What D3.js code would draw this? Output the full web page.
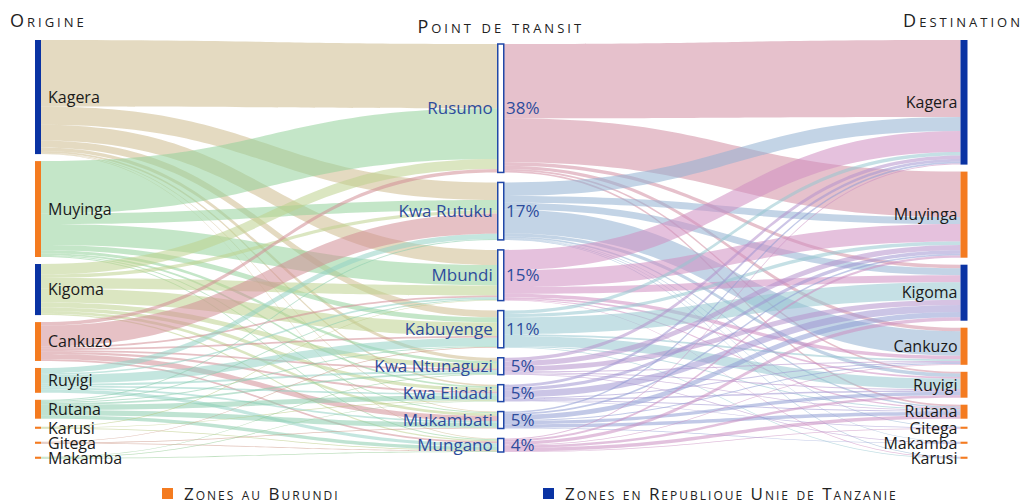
<!DOCTYPE html>
<html>
<head>
<meta charset="utf-8">
<script src="https://cdn.jsdelivr.net/npm/d3@7"></script>
<style>
  body { margin: 0; background: #fff; }
  svg { display: block; }
</style>
</head>
<body>
<div id="chart"></div>
<script>
// nodes
const origins = ["Kagera", "Muyinga", "Kigoma", "Cankuzo", "Ruyigi", "Rutana", "Karusi", "Gitega", "Makamba"];
const originCountry = ["TZ", "BI", "TZ", "BI", "BI", "BI", "BI", "BI", "BI"];
const transits = ["Rusumo", "Kwa Rutuku", "Mbundi", "Kabuyenge", "Kwa Ntunaguzi", "Kwa Elidadi", "Mukambati", "Mungano"];
const transitShare = [38, 17, 15, 11, 5, 5, 5, 4];
const destinations = ["Kagera", "Muyinga", "Kigoma", "Cankuzo", "Ruyigi", "Rutana", "Gitega", "Makamba", "Karusi"];
const destCountry = ["TZ", "BI", "TZ", "BI", "BI", "BI", "BI", "BI", "BI"];

// % of all flows, rows = origins, columns = transit points
const originToTransit = [
  [19, 5.2, 4.5, 2, 1, 0.5, 0.2, 0.2],
  [15, 3, 6, 1.5, 0.8, 0.5, 0.3, 0.3],
  [3, 1, 3, 4, 1.4, 1, 0.8, 0.4],
  [1, 6, 0.5, 0.5, 0.5, 0.6, 1.5, 0.5],
  [0, 1.5, 0.5, 2.5, 0.6, 0.5, 0.5, 1],
  [0, 0.3, 0.3, 0.3, 0.5, 1.5, 1.5, 1],
  [0, 0, 0.2, 0, 0, 0.2, 0, 0.2],
  [0, 0, 0, 0.2, 0, 0, 0.2, 0.2],
  [0, 0, 0, 0, 0.2, 0.2, 0, 0.2]
];

// rows = transit points, columns = destinations
const transitToDest = [
  [22, 13, 1, 1, 0.5, 0.5, 0, 0, 0],
  [4, 2, 2, 7, 1, 0.4, 0.2, 0.2, 0.2],
  [6, 5, 2, 1, 0.5, 0.3, 0, 0, 0.2],
  [1, 1, 5, 0.5, 3, 0.3, 0, 0, 0.2],
  [1, 1.5, 1.5, 0.3, 0.3, 0.2, 0, 0.2, 0],
  [0.8, 1, 2, 0.3, 0.4, 0.3, 0.2, 0, 0],
  [0.5, 0.5, 1.5, 0.3, 1, 1, 0, 0.2, 0],
  [0.3, 0.6, 1, 0.2, 0.7, 1, 0.2, 0, 0]
];

const originColors = ["#cebc8e", "#94d29b", "#bed28e", "#d28e96", "#94d2c5", "#8bccad", "#b5c77a", "#c8907e", "#8fc98f"];
const transitColors = ["#d28ea2", "#92b1d2", "#d08ec1", "#96c7d0", "#b492cc", "#a096d2", "#8f9dd4", "#cb8ec1"];
const countryColors = { BI: "#f47b20", TZ: "#0a33a3" };
const legendItems = [
  { label: "Zones au Burundi", country: "BI" },
  { label: "Zones en Republique Unie de Tanzanie", country: "TZ" }
];

(function () {
  const width = 1023, height = 500;
  const nodeW = 6;
  const pad = 7, padMid = 10, minSlot = 8;

  const svg = d3.select("#chart").append("svg")
    .attr("width", width)
    .attr("height", height)
    .style("font-family", "'Open Sans', sans-serif");

  const x = d3.scalePoint().domain(["origin", "transit", "dest"]).range([38, 963.5]);

  const originTotals = originToTransit.map(r => d3.sum(r));
  const destTotals = destinations.map((d, j) => d3.sum(transitToDest, r => r[j]));

  // side columns and middle column use their own vertical scale
  const kSide = d3.scaleLinear().domain([0, 100]).range([0, 350]);
  const kMid = d3.scaleLinear().domain([0, 100]).range([0, 338]);

  function column(values, top, k, gap) {
    let y = top;
    return values.map(v => {
      const h = k(v);
      const n = { y0: y, y1: y + h, out: 0, in: 0 };
      if (h < minSlot) { // tiny zones get a small slot with a dash
        n.y0 = y + 1; n.y1 = y + 1 + h;
        y += minSlot + gap;
      } else {
        y += h + gap;
      }
      return n;
    });
  }

  const oNodes = column(originTotals, 40, kSide, pad);
  const tNodes = column(transitShare, 44, kMid, padMid);
  const dNodes = column(destTotals, 40, kSide, pad);

  function ribbon(x0, x1, a0, b0, a1, b1) {
    const p = d3.path();
    const xm = (x0 + x1) / 2;
    p.moveTo(x0, a0);
    p.bezierCurveTo(xm, a0, xm, a1, x1, a1);
    p.lineTo(x1, b1);
    p.bezierCurveTo(xm, b1, xm, b0, x0, b0);
    p.closePath();
    return p.toString();
  }

  function buildLinks(matrix, srcNodes, tgtNodes, kSrc, kTgt) {
    const links = [];
    matrix.forEach((row, i) => row.forEach((v, j) => {
      if (!v) return;
      const s = srcNodes[i], t = tgtNodes[j];
      const a0 = s.y0 + s.out; s.out += kSrc(v);
      const a1 = t.y0 + t.in; t.in += kTgt(v);
      links.push({ i, j, a0, b0: s.y0 + s.out, a1, b1: t.y0 + t.in });
    }));
    return links;
  }

  const leftLinks = buildLinks(originToTransit, oNodes, tNodes, kSide, kMid);
  const rightLinks = buildLinks(transitToDest, tNodes, dNodes, kMid, kSide);

  const xo = x("origin") + nodeW / 2, xt0 = x("transit") - nodeW / 2,
        xt1 = x("transit") + nodeW / 2, xd = x("dest") - nodeW / 2;

  svg.append("g").selectAll("path")
    .data(leftLinks)
    .join("path")
    .attr("d", d => ribbon(xo, xt0, d.a0, d.b0, d.a1, d.b1))
    .attr("fill", d => originColors[d.i])
    .attr("fill-opacity", 0.55);

  svg.append("g").selectAll("path")
    .data(rightLinks)
    .join("path")
    .attr("d", d => ribbon(xt1, xd, d.a0, d.b0, d.a1, d.b1))
    .attr("fill", d => transitColors[d.i])
    .attr("fill-opacity", 0.55);

  // origin bars
  svg.append("g").selectAll("rect")
    .data(oNodes)
    .join("rect")
    .attr("x", x("origin") - nodeW / 2)
    .attr("y", d => d.y0)
    .attr("width", nodeW)
    .attr("height", d => d.y1 - d.y0)
    .attr("fill", (d, i) => countryColors[originCountry[i]]);

  svg.append("g").selectAll("rect")
    .data(dNodes)
    .join("rect")
    .attr("x", x("dest") - nodeW / 2)
    .attr("y", d => d.y0)
    .attr("width", nodeW + 1)
    .attr("height", d => d.y1 - d.y0)
    .attr("fill", (d, i) => countryColors[destCountry[i]]);

  svg.append("g").selectAll("rect")
    .data(tNodes)
    .join("rect")
    .attr("x", x("transit") - nodeW / 2)
    .attr("y", d => d.y0)
    .attr("width", nodeW)
    .attr("height", d => d.y1 - d.y0)
    .attr("fill", "#fff")
    .attr("stroke", "#2148a8")
    .attr("stroke-width", 1.5);

  // labels
  svg.append("g").selectAll("text")
    .data(oNodes)
    .join("text")
    .attr("x", x("origin") + 10)
    .attr("y", d => (d.y0 + d.y1) / 2)
    .attr("dy", "0.36em")
    .attr("font-size", 16)
    .attr("fill", "#1a1a1a")
    .text((d, i) => origins[i]);

  svg.append("g").selectAll("text")
    .data(dNodes)
    .join("text")
    .attr("x", x("dest") - 6)
    .attr("y", d => (d.y0 + d.y1) / 2)
    .attr("dy", "0.36em")
    .attr("text-anchor", "end")
    .attr("font-size", 16)
    .attr("fill", "#1a1a1a")
    .text((d, i) => destinations[i]);

  const mid = svg.append("g").attr("fill", "#2e4c9c").attr("font-size", 17);
  mid.selectAll(".tname")
    .data(tNodes)
    .join("text")
    .attr("class", "tname")
    .attr("x", x("transit") - 8)
    .attr("y", d => (d.y0 + d.y1) / 2)
    .attr("dy", "0.36em")
    .attr("text-anchor", "end")
    .text((d, i) => transits[i]);
  mid.selectAll(".tpct")
    .data(tNodes)
    .join("text")
    .attr("class", "tpct")
    .attr("x", x("transit") + 22)
    .attr("y", d => (d.y0 + d.y1) / 2)
    .attr("dy", "0.36em")
    .attr("text-anchor", "middle")
    .text((d, i) => transitShare[i] + "%");

  // column titles
  const titles = svg.append("g")
    .attr("font-size", 18)
    .attr("fill", "#222")
    .style("font-variant", "small-caps")
    .style("letter-spacing", "3px");
  titles.append("text").attr("x", 10).attr("y", 27).text("Origine");
  titles.append("text").attr("x", x("transit")).attr("y", 33).attr("text-anchor", "middle").text("Point de transit");
  titles.append("text").attr("x", 1023).attr("y", 27).attr("text-anchor", "end").text("Destination");

  // legend
  const lx = d3.scaleOrdinal().domain(legendItems.map(d => d.country)).range([162, 543]);
  const legend = svg.append("g").selectAll("g")
    .data(legendItems)
    .join("g")
    .attr("transform", d => `translate(${lx(d.country)},488)`);
  legend.append("rect")
    .attr("width", 11)
    .attr("height", 11)
    .attr("fill", d => countryColors[d.country]);
  legend.append("text")
    .attr("x", 22)
    .attr("y", 12)
    .attr("font-size", 17)
    .attr("fill", "#222")
    .style("font-variant", "small-caps")
    .style("letter-spacing", "2px")
    .text(d => d.label);
})();
</script>
</body>
</html>
